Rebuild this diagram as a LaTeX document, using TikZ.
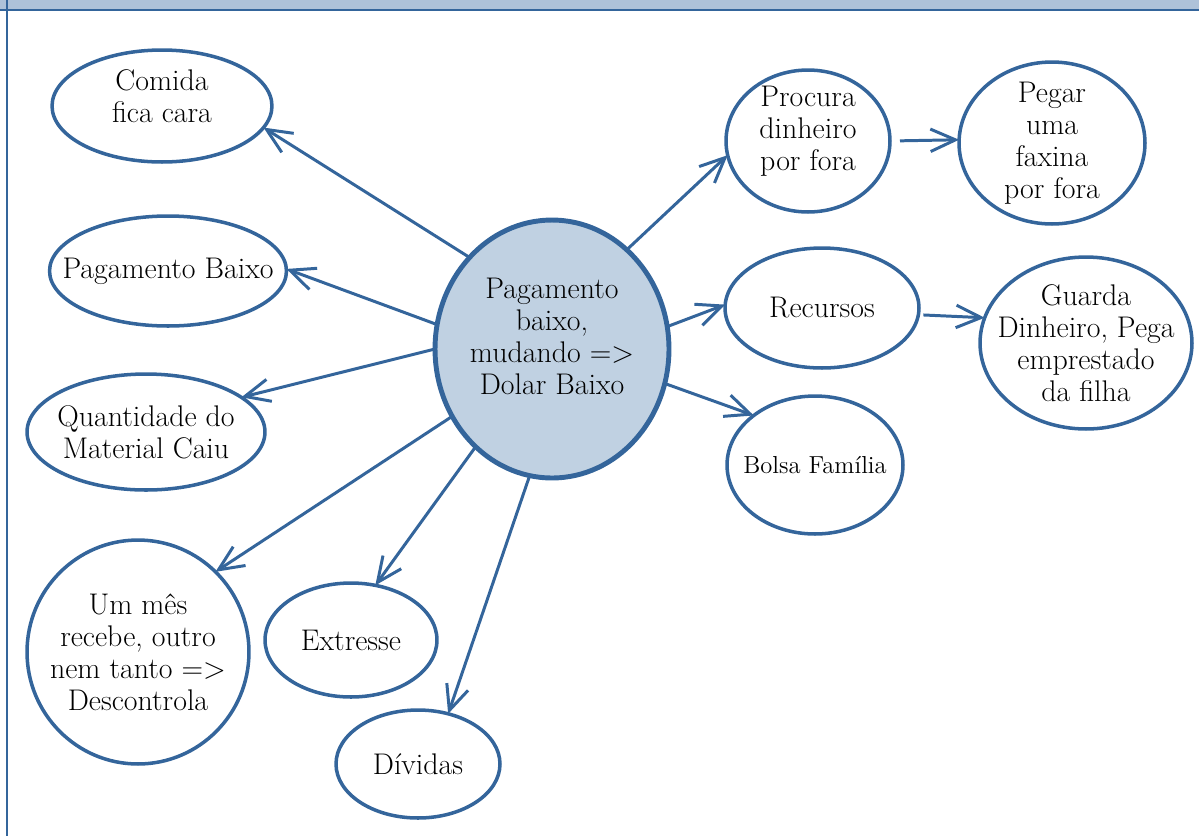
\documentclass[tikz,border=0pt]{standalone}
\usetikzlibrary{shapes.geometric,arrows.meta}
\definecolor{mapblue}{RGB}{52,101,155}
\definecolor{mapfill}{RGB}{192,209,226}
\definecolor{mapband}{RGB}{174,194,217}
\begin{document}
\begin{tikzpicture}[x=0.02cm,y=-0.02cm,
    every node/.style={font=\fontsize{17}{18.2}\selectfont, text=black, align=center},
    bub/.style={ellipse, draw=mapblue, line width=2pt, inner sep=-1.2cm, outer sep=0pt},
    link/.style={draw=mapblue, line width=1.7pt, -{Straight Barb[length=5mm,width=4.5mm]}}]
      \useasboundingbox (0,0) rectangle (1199,836);
      \fill[mapband] (0,0) rectangle (1199,10);
      \draw[mapblue, line width=1.2pt] (0,10) -- (1199,10);
      \draw[mapblue, line width=0.8pt] (7,0) -- (7,836);
      % left side
      \node[bub, minimum width=4.4cm, minimum height=2.24cm, label={[yshift=0.2cm]center:{Comida\\fica cara}}] (comida) at (162,106) {};
      \node[bub, minimum width=4.74cm, minimum height=2.2cm] (pagbaixo) at (168,271) {Pagamento Baixo};
      \node[bub, minimum width=4.76cm, minimum height=2.32cm] (quant) at (146,432) {Quantidade do\\Material Caiu};
      \node[bub, minimum width=4.44cm, minimum height=4.48cm] (ummes) at (138,652) {Um mês\\recebe, outro\\nem tanto =>\\Descontrola};
      \node[bub, minimum width=3.44cm, minimum height=2.28cm] (extresse) at (351,640) {Extresse};
      \node[bub, minimum width=3.28cm, minimum height=2.16cm] (dividas) at (418,764) {Dívidas};
      % centre
      \node[bub, fill=mapfill, line width=2.8pt, minimum width=4.68cm, minimum height=5.16cm, label={[yshift=0.26cm]center:{Pagamento\\baixo,\\mudando =>\\Dolar Baixo}}] (pagamento) at (552,349) {};
      % right side
      \node[bub, minimum width=3.28cm, minimum height=2.84cm, label={[yshift=0.2cm]center:{Procura\\dinheiro\\por fora}}] (procura) at (808,141) {};
      \node[bub, minimum width=3.72cm, minimum height=3.24cm] (faxina) at (1052,143) {Pegar\\uma\\faxina\\por fora};
      \node[bub, minimum width=3.88cm, minimum height=2.4cm] (recursos) at (822,308) {Recursos};
      \node[bub, minimum width=4.24cm, minimum height=3.44cm] (guarda) at (1086,343) {Guarda\\Dinheiro, Pega\\emprestado\\da filha};
      \node[bub, minimum width=3.52cm, minimum height=2.76cm, font=\fontsize{14}{16}\selectfont] (bolsa) at (815,465) {Bolsa Família};
      % arrows
      \draw[link] (pagamento.132) -- (comida.-12);
      \draw[link] (pagamento.168) -- (pagbaixo.1);
      \draw[link] (pagamento.180) -- (quant.20);
      \draw[link] (pagamento.214) -- (ummes.46);
      \draw[link] (pagamento.232) -- (extresse.66);
      \draw[link] (pagamento.260) -- (dividas.59);
      \draw[link] (pagamento.53) -- (procura.190);
      \draw[link] (pagamento.11) -- (recursos.178);
      \draw[link] (pagamento.-17) -- (bolsa.141);
      \draw[link, shorten <=0.2cm] (procura.0) -- (faxina.178);
      \draw[link, shorten <=0.1cm] (recursos.-4) -- (guarda.166);
    \end{tikzpicture}
\end{document}
